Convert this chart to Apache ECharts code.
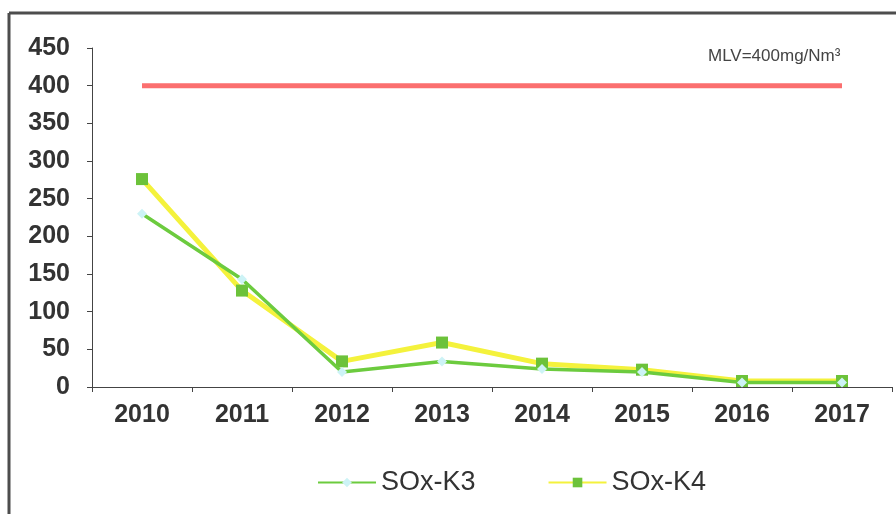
<!DOCTYPE html>
<html lang="en">
<head>
    <meta charset="UTF-8">
    <title>SOx</title>
    <script src="https://cdn.jsdelivr.net/npm/echarts@6/dist/echarts.min.js"></script>
    <style>
        html, body { margin: 0; padding: 0; background: #fff; }
        #main { width: 896px; height: 514px; }
    </style>
</head>
<body>
    <div id="main"></div>
    <script>
        var years = ['2010', '2011', '2012', '2013', '2014', '2015', '2016', '2017'];
        var soxK3 = [230, 143, 20, 34, 24, 20, 6, 6];
        var soxK4 = [276, 128, 34, 59, 31, 23, 8, 8];
        var mlv = [400, 400, 400, 400, 400, 400, 400, 400];
        var yTicks = [0, 50, 100, 150, 200, 250, 300, 350, 400, 450];

        var myChart = echarts.init(document.getElementById('main'));
        var option = {
            animation: false,
            grid: { left: 92, right: 4, top: 48, bottom: 127, containLabel: false },
            graphic: [
                { type: 'line', shape: { x1: 9, y1: 13, x2: 896, y2: 13 }, style: { stroke: '#4d4d4d', lineWidth: 3 } },
                { type: 'line', shape: { x1: 9, y1: 13, x2: 9, y2: 514 }, style: { stroke: '#4d4d4d', lineWidth: 3 } },
                {
                    type: 'text', left: 708, top: 48,
                    style: { text: 'MLV=400mg/Nm³', font: '17px "Liberation Sans", Arial', fill: '#444' }
                }
            ],
            legend: {
                data: ['SOx-K3', 'SOx-K4'],
                bottom: 13,
                left: 312,
                itemWidth: 58,
                itemHeight: 12,
                itemGap: 72,
                textStyle: { fontSize: 27, color: '#333', fontFamily: '"Liberation Sans", Arial' }
            },
            xAxis: {
                type: 'category',
                data: years,
                boundaryGap: true,
                axisLine: { lineStyle: { color: '#444', width: 1 } },
                axisTick: { show: true, length: 5, lineStyle: { color: '#444' } },
                axisLabel: { fontSize: 25, fontWeight: 'bold', color: '#333', margin: 16, fontFamily: '"Liberation Sans", Arial' }
            },
            yAxis: {
                type: 'value',
                min: yTicks[0],
                max: yTicks[yTicks.length - 1],
                interval: 50,
                axisLine: { show: true, lineStyle: { color: '#444', width: 1 } },
                axisTick: { show: true, length: 5, lineStyle: { color: '#444' } },
                splitLine: { show: false },
                axisLabel: { fontSize: 25, fontWeight: 'bold', color: '#333', margin: 22, fontFamily: '"Liberation Sans", Arial' }
            },
            series: [
                {
                    name: 'MLV',
                    type: 'line',
                    data: mlv,
                    symbol: 'none',
                    lineStyle: { color: '#fb6f6f', width: 5 },
                    z: 1
                },
                {
                    name: 'SOx-K4',
                    type: 'line',
                    data: soxK4,
                    symbol: 'rect',
                    symbolSize: 12,
                    itemStyle: { color: '#6cc23a', borderWidth: 0 },
                    lineStyle: { color: '#f4f23c', width: 5 },
                    z: 2
                },
                {
                    name: 'SOx-K3',
                    type: 'line',
                    data: soxK3,
                    symbol: 'diamond',
                    symbolSize: 10,
                    itemStyle: { color: '#cdf3f6', borderWidth: 0 },
                    lineStyle: { color: '#6ccb3e', width: 3.5 },
                    z: 3
                }
            ]
        };
        myChart.setOption(option);
    </script>
</body>
</html>
